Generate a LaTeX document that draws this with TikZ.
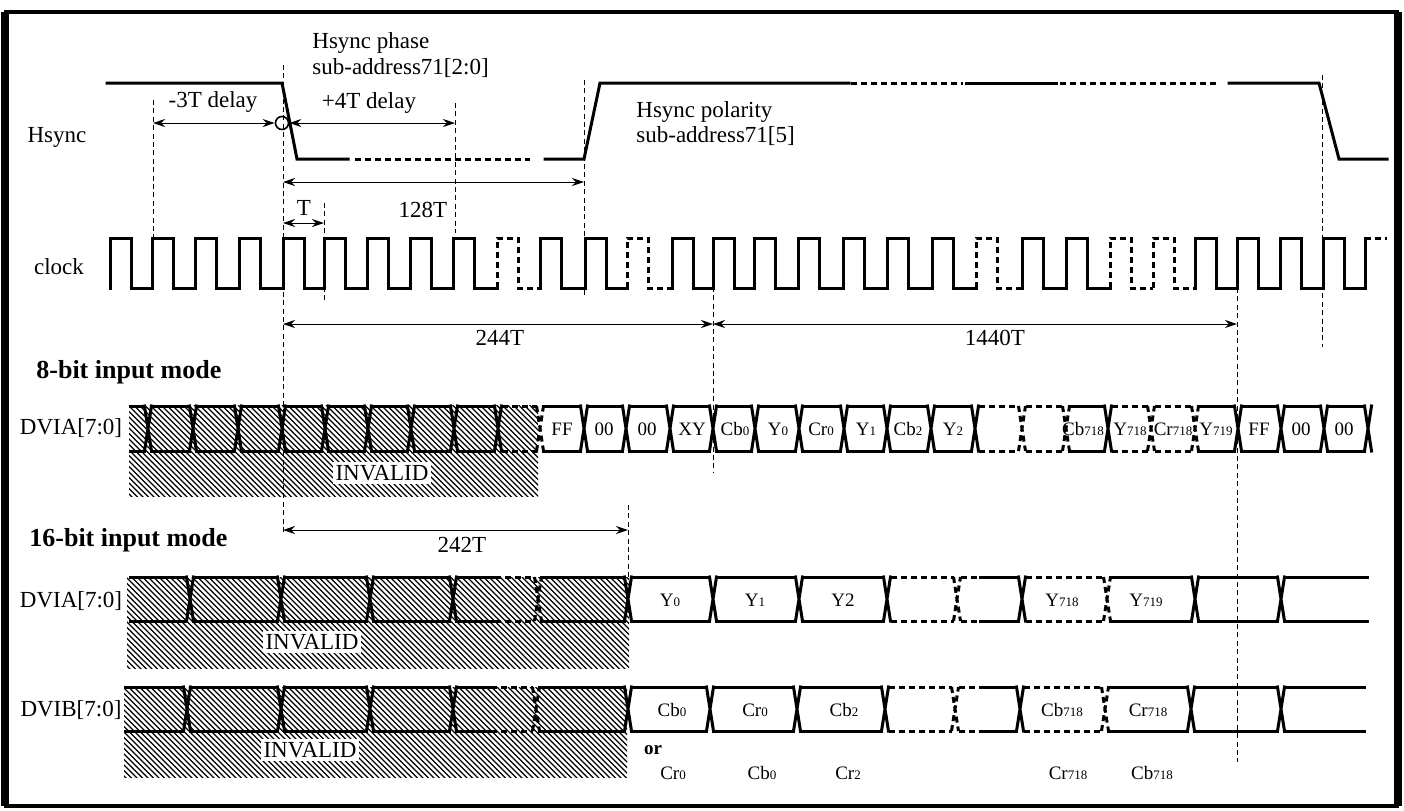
\documentclass[tikz,border=0pt]{standalone}
\usepackage{fontspec}
\setmainfont{Liberation Serif}
\usetikzlibrary{arrows.meta}

\tikzset{
  sig/.style={line width=1.5pt, line cap=rect},
  dsig/.style={line width=1.5pt, line cap=butt, dash pattern=on 3pt off 2pt},
  nox/.style={draw=none},
  guide/.style={line width=0.5pt, dash pattern=on 2.5pt off 1.7pt},
  dim/.style={line width=0.5pt, {Stealth[length=6pt,width=4pt,inset=2pt]}-{Stealth[length=6pt,width=4pt,inset=2pt]}},
  lbl/.style={font=\fontsize{11.5}{13}\selectfont, inner sep=1pt},
  dat/.style={font=\fontsize{9.5}{11}\selectfont, inner sep=0pt},
  head/.style={font=\fontsize{13}{15}\selectfont\bfseries, anchor=west, inner sep=0pt},
  inv/.style={lbl, fill=white, inner sep=1.5pt},
  hline/.style={line width=0.65pt}
}
\newcommand\sub[1]{{\fontsize{6.5}{7}\selectfont #1}}
% one bus row: top, bottom, cells a/b/line/crossing
\newcommand\busrow[3]{%
  \foreach \a/\b/\s/\e in {#3} {
    \draw[\s] (\a+3.5,#1) -- (\b-3.5,#1) (\a+3.5,#2) -- (\b-3.5,#2);
    \draw[\e] (\b-3.5,#1) -- (\b+3.5,#2) (\b-3.5,#2) -- (\b+3.5,#1);
  }}
% hatched INVALID area
\newcommand\hatch[4]{%
  \begin{scope}
    \clip (#1,#2) rectangle (#3,#4);
    \foreach \i in {0,5.5,...,620} \draw[hline] (#1-100+\i,#2) -- ++(100,100);
  \end{scope}}

\begin{document}
\begin{tikzpicture}[x=0.5pt,y=-0.5pt]
\useasboundingbox (0,0) rectangle (1404,810);
\draw[line width=2pt] (6,12) rectangle (1397,806);
\draw[line width=4pt] (5,12) -- (5,806) (1398,12) -- (1398,806);

%%% signal names %%%
\node[lbl] (hs) at (57,137) {Hsync};
\node[lbl] (ck) at (59,267) {clock};
\node[head] (m8) at (36,372) {8-bit input mode};
\node[lbl] (da8) at (71,428) {DVIA[7:0]};
\node[head] (m16) at (29,540) {16-bit input mode};
\node[lbl] (da16) at (71,601) {DVIA[7:0]};
\node[lbl] (db16) at (71,710) {DVIB[7:0]};

%%% guide lines %%%
\draw[guide] (153,100) -- (153,237);
\draw[guide] (283,65) -- (283,532);
\draw[guide] (324,203) -- (324,302);
\draw[guide] (455,103) -- (455,233);
\draw[guide] (584,80) -- (584,297);
\draw[guide] (628,505) -- (628,578);
\draw[guide] (713,287) -- (713,473);
\draw[guide] (1237,288) -- (1237,762);
\draw[guide] (1322,75) -- (1322,347);

%%% Hsync %%%
\draw[sig] (107,83) -- (282,83) -- (297,159) -- (348,159);
\draw[dsig] (355,159) -- (530,159);
\draw[sig] (545,159) -- (584,159) -- (600,83) -- (849,83);
\draw[dsig] (851,83) -- (963,83);
\draw[sig] (966,83) -- (1056,83);
\draw[dsig] (1060,83) -- (1216,83);
\draw[sig] (1229,83) -- (1319,83) -- (1339,159) -- (1387,159);

\node[lbl, anchor=west] (ph1) at (310,43) {Hsync phase};
\node[lbl, anchor=west] (ph2) at (310,68) {sub-address71[2:0]};
\node[lbl, anchor=west] (po1) at (634,112) {Hsync polarity};
\node[lbl, anchor=west] (po2) at (634,136) {sub-address71[5]};

\node[circle, draw, line width=0.8pt, minimum size=6.5pt, inner sep=0pt] (hph) at (282,123) {};
\coordinate (m3) at (153,123);
\coordinate (p4) at (455,123);
\draw[dim] (m3) -- (hph.west);
\draw[dim] (hph.east) -- (p4);
\node[lbl] (t3) at (213,102) {-3T delay};
\node[lbl] (t4) at (369,103) {+4T delay};

\coordinate (s0) at (283,182);
\coordinate (s1) at (584,182);
\draw[dim] (s0) -- (s1);
\node[lbl] (t128) at (423,210) {128T};
\coordinate (q0) at (283,223);
\coordinate (q1) at (324,223);
\draw[dim] (q0) -- (q1);
\node[lbl] (tt) at (304,208) {T};

%%% clock %%%
\foreach \r/\n/\s in {110/152/sig, 152/195/sig, 195/239/sig, 239/283/sig,
    283/324/sig, 324/367/sig, 367/410/sig, 410/453/sig, 453/497/sig,
    497/540/dsig, 540/585/sig, 585/627/sig, 627/672/dsig, 672/713/sig,
    713/754/sig, 754/798/sig, 798/843/sig, 843/887/sig, 887/932/sig,
    932/976/sig, 976/1022/dsig, 1022/1066/sig, 1066/1110/sig,
    1110/1153/dsig, 1153/1195/dsig, 1195/1237/sig, 1237/1280/sig,
    1280/1323/sig, 1323/1365/sig}
  \draw[\s] (\r,288) -- (\r,238) -- (\r+21,238) -- (\r+21,288) -- (\n,288);
\draw[sig] (1365,288) -- (1365,238);
\draw[dsig] (1365,238) -- (1387,238);

\coordinate (g0) at (283,324);
\coordinate (g1) at (713,324);
\coordinate (g2) at (1237,324);
\draw[dim] (g0) -- (g1);
\draw[dim] (g1) -- (g2);
\node[lbl] (t244) at (500,338) {244T};
\node[lbl] (t1440) at (995,338) {1440T};

%%% 8-bit input mode %%%
\hatch{129}{405}{538}{496}
\node[inv] (iv8) at (382,473) {INVALID};
\busrow{406}{451}{126.5/148/sig/sig, 148/193/sig/sig, 193/238/sig/sig,
  238/282/sig/sig, 282/325/sig/sig, 325/368/sig/sig, 368/411/sig/sig,
  411/454/sig/sig, 454/498/sig/sig, 498/540/dsig/dsig, 540/584/sig/sig,
  584/626/sig/sig, 626/670/sig/sig, 670/713/sig/sig, 713/755/sig/sig,
  755/799/sig/sig, 799/844/sig/sig, 844/887/sig/sig, 887/931/sig/sig,
  931/975/sig/sig, 975/1022/dsig/dsig, 1022/1066/dsig/dsig,
  1066/1108/sig/sig, 1108/1151/dsig/dsig, 1151/1195/dsig/dsig,
  1195/1238/sig/sig, 1238/1281/sig/sig, 1281/1324/sig/sig,
  1324/1368/sig/sig}
\foreach \x/\t [count=\i] in {562/FF, 604/00, 647/00, 692/XY,
    735/Cb\sub{0}, 778/Y\sub{0}, 821/Cr\sub{0}, 866/Y\sub{1},
    908/Cb\sub{2}, 953/Y\sub{2}, 1083/Cb\sub{718}, 1130/Y\sub{718},
    1173/Cr\sub{718}, 1216/Y\sub{719}, 1259/FF, 1301/00, 1344/00}
  \node[dat] (a\i) at (\x,429) {\t};

%%% 16-bit input mode %%%
\coordinate (h0) at (283,530);
\coordinate (h1) at (628,530);
\draw[dim] (h0) -- (h1);
\node[lbl] (t242) at (462,545) {242T};

\hatch{127}{577}{629}{668}
\node[inv] (iv16a) at (312,642) {INVALID};
\busrow{577}{621}{126.5/190/sig/sig, 190/281/sig/sig, 281/370/sig/sig,
  370/453/sig/sig, 453/498.5/sig/nox, 491.5/538/dsig/dsig,
  538/628/sig/sig, 628/713/sig/sig, 713/799/sig/sig, 799/887/sig/sig,
  887/957/dsig/dsig, 957/983.5/dsig/nox, 976.5/1022/sig/sig,
  1022/1107/dsig/dsig, 1107/1195/sig/sig, 1195/1281/sig/sig,
  1281/1370.5/sig/nox}
\foreach \x/\t [count=\i] in {670/Y\sub{0}, 755/Y\sub{1}, 843/Y2,
    1062/Y\sub{718}, 1146/Y\sub{719}}
  \node[dat] (y\i) at (\x,600) {\t};

\hatch{124}{687}{627}{777}
\node[inv] (iv16b) at (310,750) {INVALID};
\busrow{687}{731}{121.5/187/sig/sig, 187/281/sig/sig, 281/370/sig/sig,
  370/453/sig/sig, 453/494.5/sig/nox, 487.5/536/dsig/dsig,
  536/628/sig/sig, 628/710/sig/sig, 710/797/sig/sig, 797/885/sig/sig,
  885/955/dsig/dsig, 955/983.5/dsig/nox, 976.5/1020/sig/sig,
  1020/1105/dsig/dsig, 1105/1191/sig/sig, 1191/1281/sig/sig,
  1281/1367.5/sig/nox}
\foreach \x/\t [count=\i] in {672/Cb\sub{0}, 755/Cr\sub{0}, 844/Cb\sub{2},
    1062/Cb\sub{718}, 1148/Cr\sub{718}}
  \node[dat] (b\i) at (\x,710) {\t};

\node[dat, font=\fontsize{9.5}{11}\selectfont\bfseries] (or) at (653,750) {or};
\foreach \x/\t [count=\i] in {673/Cr\sub{0}, 762/Cb\sub{0}, 848/Cr\sub{2},
    1068/Cr\sub{718}, 1152/Cb\sub{718}}
  \node[dat] (r\i) at (\x,773) {\t};
\end{tikzpicture}
\end{document}
